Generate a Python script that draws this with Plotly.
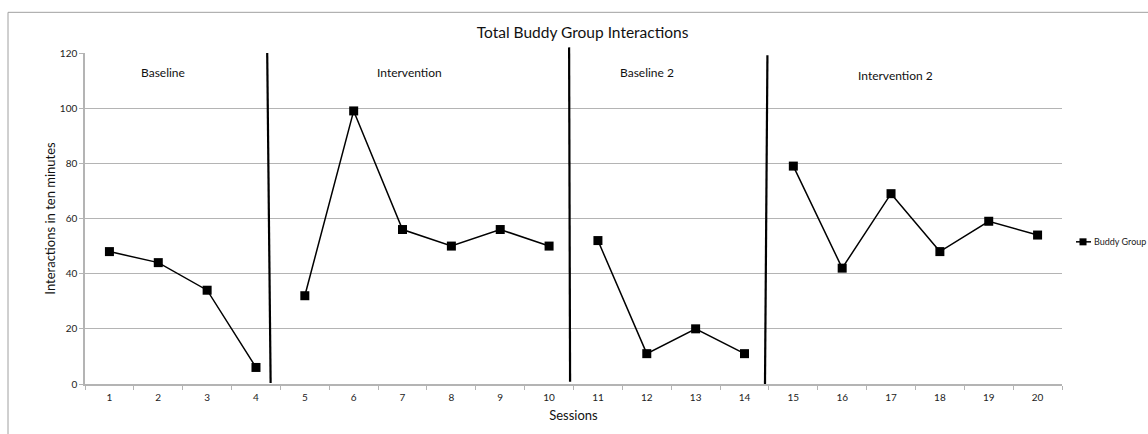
import plotly.graph_objects as go

# Session numbers and interaction counts for the buddy group
sessions = list(range(1, 21))
interactions = [48, 44, 34, 6, 32, 99, 56, 50, 56, 50,
                52, 11, 20, 11, 79, 42, 69, 48, 59, 54]
# last session of each phase (the line is broken after these)
phase_last_session = [4, 10, 14]

# Phase labels and where they sit (session position, value)
phase_names = ["Baseline", "Intervention", "Baseline 2", "Intervention 2"]
phase_label_x = [2.1, 7.15, 12.0, 17.1]
phase_label_y = [113, 113, 113, 112]

# Phase change lines: (x at top, x at bottom, top in paper y, bottom in paper y)
phase_lines = [
    (4.23, 4.30, 1.000, 0.003),
    (10.41, 10.43, 1.017, 0.007),
    (14.47, 14.42, 0.993, 0.000),
]

FONT = "Lato, 'Open Sans', sans-serif"
GRID = "#b4b4b4"

# Insert gaps so each phase is drawn as its own connected segment
xs, ys = [], []
for s, v in zip(sessions, interactions):
    xs.append(s)
    ys.append(v)
    if s in phase_last_session:
        xs.append(None)
        ys.append(None)

fig = go.Figure()
fig.add_trace(go.Scatter(
    x=xs, y=ys, name="Buddy Group",
    mode="lines+markers", connectgaps=False,
    line=dict(color="black", width=1.5),
    marker=dict(symbol="square", size=9, color="black"),
    showlegend=False,
))

shapes = []
for xt, xb, yt, yb in phase_lines:
    shapes.append(dict(type="line", xref="x", yref="paper",
                       x0=xt, y0=yt, x1=xb, y1=yb,
                       line=dict(color="black", width=2.2)))
# outer chart frame
shapes.append(dict(type="rect", xref="paper", yref="paper",
                   x0=-0.0788, y0=1.1229, x1=1.3, y1=-0.3,
                   line=dict(color="#a0a0a0", width=1), layer="below"))

# legend key: short line with a square marker
LEG_Y = 0.4295
shapes.append(dict(type="line", xref="paper", yref="paper",
                   x0=1.0143, x1=1.0297, y0=LEG_Y, y1=LEG_Y,
                   line=dict(color="black", width=1.5)))
shapes.append(dict(type="rect", xref="paper", yref="paper",
                   x0=1.0215 - 0.0036, x1=1.0215 + 0.0036,
                   y0=LEG_Y - 0.0106, y1=LEG_Y + 0.0106,
                   fillcolor="black", line=dict(width=0)))

annotations = [
    dict(x=x, y=y, xref="x", yref="y", text=t, showarrow=False,
         font=dict(family=FONT, size=12, color="#111"))
    for t, x, y in zip(phase_names, phase_label_x, phase_label_y)
]
annotations.append(dict(x=1.0307, y=LEG_Y, xref="paper", yref="paper",
                        xanchor="left", yanchor="middle", showarrow=False,
                        text="Buddy Group",
                        font=dict(family=FONT, size=9, color="#222")))

fig.update_layout(
    width=1148, height=434,
    margin=dict(l=85, r=86, t=53, b=50, autoexpand=False),
    paper_bgcolor="white", plot_bgcolor="white",
    font=dict(family=FONT, color="#222"),
    title=dict(text="Total Buddy Group Interactions", x=0.5075, xanchor="center",
               y=1 - 33 / 434, yanchor="middle",
               font=dict(family=FONT, size=15.5, color="#111")),
    shapes=shapes,
    annotations=annotations,
)

fig.update_xaxes(
    range=[0.5, 20.5], tickmode="array", tickvals=sessions,
    ticktext=[str(s) for s in sessions], ticks="",
    ticklabelstandoff=3,
    showgrid=False, zeroline=False,
    showline=True, linecolor=GRID, linewidth=1.5,
    tickfont=dict(family=FONT, size=10, color="#222"),
    minor=dict(tick0=0.5, dtick=1, ticks="outside", ticklen=4,
               tickcolor=GRID, tickwidth=1, showgrid=False),
    title=dict(text="Sessions", font=dict(family=FONT, size=13, color="#111"),
               standoff=9),
)
fig.update_yaxes(
    range=[0, 120], dtick=20, ticks="outside", ticklen=4,
    tickcolor=GRID, showgrid=True, gridcolor=GRID, gridwidth=1.2,
    zeroline=False, showline=True, linecolor=GRID, linewidth=1.5,
    tickfont=dict(family=FONT, size=10, color="#222"),
    title=dict(text="Interactions in ten minutes",
               font=dict(family=FONT, size=13, color="#111"), standoff=1),
)

fig.write_html("out.html")
